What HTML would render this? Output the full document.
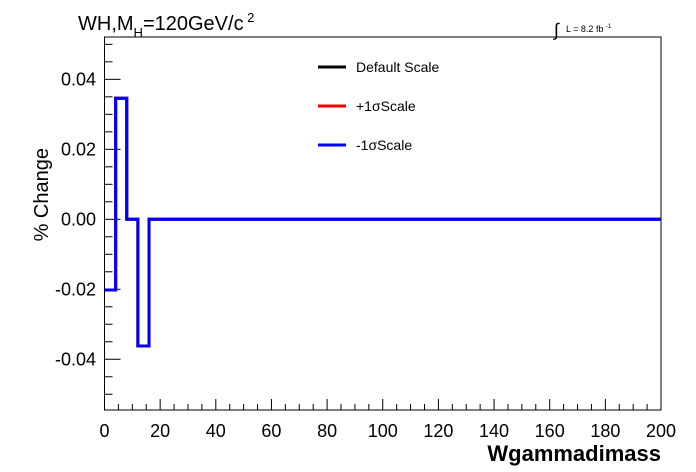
<!DOCTYPE html>
<html><head><meta charset="utf-8"><style>
html,body{margin:0;padding:0;background:#fff;}
svg{display:block;font-family:"Liberation Sans",Arial,sans-serif;}
</style></head><body>
<svg id="chart" width="696" height="472" viewBox="0 0 696 472" xmlns="http://www.w3.org/2000/svg">
<rect x="0" y="0" width="696" height="472" fill="#fff"/>
<text x="78" y="30" font-size="20">WH,M<tspan font-size="13" dy="7">H</tspan><tspan dy="-7">=120GeV/c</tspan><tspan font-size="13" dy="-8"> 2</tspan></text>
<g>
<text x="554" y="36" font-size="18">∫</text>
<text x="566" y="32" font-size="9">L = 8.2 fb <tspan font-size="6" dy="-4">-1</tspan></text>
</g>
<rect x="104.5" y="37" width="556.5" height="373" fill="none" stroke="#000" stroke-width="1"/>
<g id="yaxis"></g>
<g id="xaxis"></g>
<text transform="translate(48,148) rotate(-90)" font-size="20" text-anchor="end">% Change</text>
<text x="661" y="461" font-size="22" font-weight="bold" text-anchor="end">Wgammadimass</text>
<g id="series"></g>
<g>
<g><line x1="318" y1="67" x2="346" y2="67" stroke="#000" stroke-width="3"/><text x="356" y="72" font-size="14">Default Scale</text></g>
<g><line x1="318" y1="106" x2="346" y2="106" stroke="#e00" stroke-width="3"/><text x="356" y="111" font-size="14">+1σScale</text></g>
<g><line x1="318" y1="145" x2="346" y2="145" stroke="#00f" stroke-width="3"/><text x="356" y="150" font-size="14">-1σScale</text></g>
</g>
</svg>
<script>
const binEdges = [0,4,8,12,16,200];
const defaultVals = [-0.0202,0.0346,0,-0.0362,0];
const plusVals = [-0.0202,0.0346,0,-0.0362,0];
const minusVals = [-0.0202,0.0346,0,-0.0362,0];
const yTickLabels = ["-0.04","-0.02","0.00","0.02","0.04"];
const xTickLabels = ["0","20","40","60","80","100","120","140","160","180","200"];
const NS="http://www.w3.org/2000/svg";
const X0=104.5,X1=661,Y0=410,Y1=37,XMIN=0,XMAX=200,YMIN=-0.0545,YMAX=0.0521;
const sx=v=>X0+(v-XMIN)/(XMAX-XMIN)*(X1-X0);
const sy=v=>Y0-(v-YMIN)/(YMAX-YMIN)*(Y0-Y1);
function mk(t,a,p){const e=document.createElementNS(NS,t);for(const k in a)e.setAttribute(k,a[k]);p.appendChild(e);return e;}
const ya=document.getElementById('yaxis');
for(let v=-0.05;v<=0.0501;v+=0.005){const y=sy(v);const major=Math.abs(Math.round(v*1000)%20)===0;
 const t=mk('line',{x1:X0,x2:X0+(major?16:8),y1:y,y2:y,stroke:'#000'},ya);
 
 }
yTickLabels.forEach(s=>{const el=mk('text',{x:96,y:sy(parseFloat(s))+6,'font-size':18,'text-anchor':'end'},ya);el.textContent=s;
 
 });
const xa=document.getElementById('xaxis');
for(let v=0;v<=200;v+=5){const x=sx(v);const major=v%20===0;
 const t=mk('line',{x1:x,x2:x,y1:Y0,y2:Y0-(major?11:6),stroke:'#000'},xa);
 
 }
xTickLabels.forEach(s=>{const el=mk('text',{x:sx(parseFloat(s)),y:437,'font-size':18,'text-anchor':'middle'},xa);el.textContent=s;
 
 });
function stepPath(vals){let d='M'+sx(binEdges[0])+','+sy(vals[0]);
 for(let i=0;i<vals.length;i++){d+=' L'+sx(binEdges[i])+','+sy(vals[i])+' L'+sx(binEdges[i+1])+','+sy(vals[i]);}
 return d;}
const sg=document.getElementById('series');
const p1=mk('path',{d:stepPath(defaultVals),fill:'none',stroke:'#000','stroke-width':3},sg);


const p2=mk('path',{d:stepPath(plusVals),fill:'none',stroke:'#e00','stroke-width':3},sg);


const p3=mk('path',{d:stepPath(minusVals),fill:'none',stroke:'#00f','stroke-width':3},sg);


</script>
</body></html>
